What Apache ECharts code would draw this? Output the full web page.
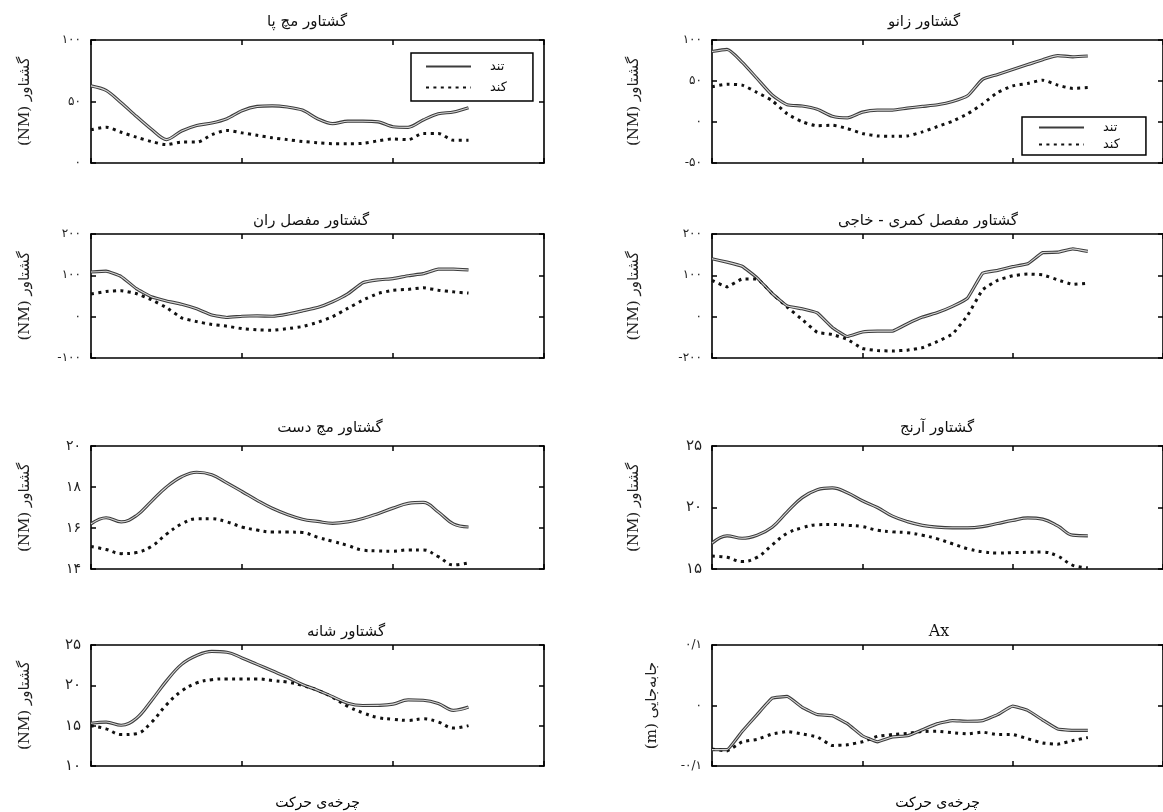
<!DOCTYPE html>
<html><head><meta charset="utf-8">
<script src="https://cdn.jsdelivr.net/npm/echarts@6/dist/echarts.min.js"></script>
<style>html,body{margin:0;padding:0;background:#fff}#c{width:1163px;height:812px}</style>
</head><body><div id="c"></div>
<script>
// ---- data (x = percent of movement cycle) ----
const cycle = [0,4,8,12,16,20,24,28,32,36,40,44,48,52,56,60,64,68,72,76,80,84,88,92,96,100];
const seriesNames = ['تند','کند'];

const ankleFast = [62.7,59,49,38,27.5,19,26,30.5,32.5,36,42.5,46,46.5,45.5,43,36,32,34,34,33.5,29.5,29,35,40,41.5,45];
const ankleSlow = [27,29,25,21,17.5,15,17,17,23,26.5,24.5,22.5,20.5,19,17.5,16.5,15.7,15.7,16,18,19.5,19,24,24,18.5,18.5];

const kneeFast = [86,88.5,73,53,33,21,19.5,15.5,7,5,12,14.5,14.5,17,19,21,25,32,52,58,64,70,76,81,79.5,80.5];
const kneeSlow = [43,46,45,36,26,10,0.3,-4.5,-4,-8,-14,-17,-17.5,-17,-12,-5.5,1,10,22,36,44,47,51,45,41,42];

const hipFast = [108,110,97,68,48,38,30,19,4,-2,1,2,1,6,14,22,36,55,82,89,92,99,104,115,115,113];
const hipSlow = [55,61,63,56,41,22,-3,-12,-19,-23,-29,-32,-33,-29,-24,-14,0,20,40,56,64,66,70,64,60,57];

const lumbarFast = [140,132,122,94,56,26,19,9,-26,-48,-37,-35,-35,-17,-1,10,25,45,105,112,121,128,155,156,164,158];
const lumbarSlow = [88,72,91,91,56,23,-7,-38,-43,-55,-77,-82,-83,-81,-75,-60,-42,3,65,88,99,103,101,89,78,81];

const wristFast = [16.2,16.5,16.3,16.6,17.3,18.0,18.5,18.72,18.6,18.2,17.78,17.35,16.96,16.66,16.43,16.32,16.23,16.3,16.46,16.7,16.97,17.2,17.25,16.78,16.2,16.05];
const wristSlow = [15.1,14.95,14.75,14.8,15.1,15.7,16.2,16.45,16.45,16.3,16.05,15.9,15.8,15.8,15.78,15.55,15.35,15.15,14.92,14.88,14.87,14.93,14.93,14.6,14.2,14.3];

const elbowFast = [17.1,17.7,17.5,17.75,18.4,19.65,20.8,21.45,21.6,21.2,20.55,20.0,19.3,18.85,18.55,18.4,18.35,18.35,18.45,18.7,18.95,19.15,19.05,18.5,17.75,17.7];
const elbowSlow = [16.05,15.95,15.6,15.95,16.95,17.9,18.35,18.6,18.62,18.55,18.45,18.15,18.02,17.95,17.75,17.45,17.05,16.65,16.4,16.3,16.33,16.36,16.38,16.05,15.3,15.1];

const shoulderFast = [15.3,15.45,15.05,15.9,18.1,20.55,22.6,23.7,24.2,24.1,23.4,22.6,21.8,21.0,20.1,19.4,18.6,17.78,17.5,17.52,17.67,18.2,18.15,17.75,16.9,17.3];
const shoulderSlow = [15.0,14.6,13.9,14.0,15.4,17.6,19.3,20.3,20.7,20.8,20.8,20.8,20.6,20.4,20.0,19.4,18.5,17.4,16.6,16.0,15.8,15.65,15.85,15.45,14.7,15.0];

const axFast = [-0.073,-0.073,-0.043,-0.015,0.012,0.015,-0.003,-0.015,-0.017,-0.03,-0.05,-0.06,-0.052,-0.05,-0.04,-0.03,-0.025,-0.026,-0.025,-0.015,-0.001,-0.008,-0.024,-0.039,-0.041,-0.041];
const axSlow = [-0.072,-0.075,-0.06,-0.056,-0.047,-0.043,-0.047,-0.052,-0.066,-0.065,-0.06,-0.051,-0.048,-0.046,-0.043,-0.0425,-0.045,-0.047,-0.044,-0.048,-0.048,-0.055,-0.062,-0.064,-0.058,-0.053];

// tick labels
const ankleTicks = [0,50,100],        ankleLabels = ['۰','۵۰','۱۰۰'];
const kneeTicks = [-50,0,50,100],     kneeLabels = ['-۵۰','۰','۵۰','۱۰۰'];
const hipTicks = [-100,0,100,200],    hipLabels = ['-۱۰۰','۰','۱۰۰','۲۰۰'];
const lumbarTicks = [-100,0,100,200], lumbarLabels = ['-۲۰۰','۰','۱۰۰','۲۰۰'];
const wristTicks = [14,16,18,20],     wristLabels = ['۱۴','۱۶','۱۸','۲۰'];
const elbowTicks = [15,20,25],        elbowLabels = ['۱۵','۲۰','۲۵'];
const shoulderTicks = [10,15,20,25],  shoulderLabels = ['۱۰','۱۵','۲۰','۲۵'];
const axTicks = [-0.1,0,0.1],         axLabels = ['-۰/۱','۰','۰/۱'];

const titles = ['گشتاور مچ پا','گشتاور زانو','گشتاور مفصل ران','گشتاور مفصل کمری - خاجی','گشتاور مچ دست','گشتاور آرنج','گشتاور شانه','Ax'];
const torqueName = '\u202Bگشتاور (NM)\u202C';
const dispName = '\u202Bجابه‌جایی (m)\u202C';
const xName = 'چرخه‌ی حرکت';

// ---- layout ----
const LX = 91, LW = 453, RX = 712, RW = 456;
const rows = [[40,123],[234,124],[446,123],[645,121]];
const panels = [
  {fast:ankleFast, slow:ankleSlow, ticks:ankleTicks, labels:ankleLabels, min:0, max:100, int:50, col:0, row:0, tx:307, fs:12, smooth:0.3, yName:torqueName, gap:58},
  {fast:kneeFast, slow:kneeSlow, ticks:kneeTicks, labels:kneeLabels, min:-50, max:100, int:50, col:1, row:0, tx:924, fs:12, smooth:0.2, yName:torqueName, gap:70},
  {fast:hipFast, slow:hipSlow, ticks:hipTicks, labels:hipLabels, min:-100, max:200, int:100, col:0, row:1, tx:311, fs:12, smooth:0.1, yName:torqueName, gap:58},
  {fast:lumbarFast, slow:lumbarSlow, ticks:lumbarTicks, labels:lumbarLabels, min:-100, max:200, int:100, col:1, row:1, tx:928, fs:12, smooth:0.1, yName:torqueName, gap:70},
  {fast:wristFast, slow:wristSlow, ticks:wristTicks, labels:wristLabels, min:14, max:20, int:2, col:0, row:2, tx:330, fs:14, smooth:0.4, yName:torqueName, gap:58},
  {fast:elbowFast, slow:elbowSlow, ticks:elbowTicks, labels:elbowLabels, min:15, max:25, int:5, col:1, row:2, tx:937, fs:15, smooth:0.4, yName:torqueName, gap:70},
  {fast:shoulderFast, slow:shoulderSlow, ticks:shoulderTicks, labels:shoulderLabels, min:10, max:25, int:5, col:0, row:3, tx:346, fs:15, smooth:0.4, yName:torqueName, gap:58, xName:xName},
  {fast:axFast, slow:axSlow, ticks:axTicks, labels:axLabels, min:-0.1, max:0.1, int:0.1, col:1, row:3, tx:939, fs:12, smooth:0.1, yName:dispName, gap:52, xName:xName}
];
const titleY = [22,221,428,632];

const pairs = (xs, ys) => xs.map((x, i) => [x, ys[i]]);
const FONT = 'DejaVu Sans';
const black = '#000';
const lineAx = {show:true, onZero:false, lineStyle:{color:black, width:1.6}};
const tickIn = {show:true, inside:true, length:5, lineStyle:{color:black, width:1.5}};

const grid = [], xAxis = [], yAxis = [], series = [], graphic = [];
panels.forEach((p, i) => {
  const [top, h] = rows[p.row];
  grid.push({left: p.col ? RX : LX, top: top, width: p.col ? RW : LW, height: h, show:false});
  xAxis.push({gridIndex:i, type:'value', min:0, max:120, interval:40, position:'bottom',
    axisLine:lineAx, axisTick:tickIn, axisLabel:{show:false}, splitLine:{show:false},
    name: p.xName || '', nameLocation:'middle', nameGap:30,
    nameTextStyle:{fontFamily:FONT, fontSize:14, color:black}});
  xAxis.push({gridIndex:i, type:'value', min:0, max:120, interval:40, position:'top',
    axisLine:lineAx, axisTick:tickIn, axisLabel:{show:false}, splitLine:{show:false}});
  yAxis.push({gridIndex:i, type:'value', min:p.min, max:p.max, interval:p.int, position:'left',
    axisLine:lineAx, axisTick:tickIn, splitLine:{show:false},
    axisLabel:{show:true, margin:10, fontFamily:FONT, fontSize:p.fs, color:'#222',
      formatter: v => { const k = p.ticks.findIndex(t => Math.abs(t - v) < 1e-9); return k >= 0 ? p.labels[k] : ''; }},
    name:p.yName, nameLocation:'middle', nameRotate:90, nameGap:p.gap,
    nameTextStyle:{fontFamily:'DejaVu Serif, DejaVu Sans', fontSize:15, color:'#222'}});
  yAxis.push({gridIndex:i, type:'value', min:p.min, max:p.max, interval:p.int, position:'right',
    axisLine:lineAx, axisTick:tickIn, axisLabel:{show:false}, splitLine:{show:false}});
  const common = {type:'line', xAxisIndex:2*i, yAxisIndex:2*i, symbol:'none', smooth:p.smooth, silent:true, animation:false};
  series.push(Object.assign({}, common, {name:seriesNames[0], data:pairs(cycle, p.fast), z:3,
    lineStyle:{color:'#3c3c3c', width:3.2}, itemStyle:{color:'#3c3c3c'}}));
  series.push(Object.assign({}, common, {name:'inner'+i, data:pairs(cycle, p.fast), z:4,
    lineStyle:{color:'#d6d6d6', width:1.1}, itemStyle:{color:'#d6d6d6'}}));
  series.push(Object.assign({}, common, {name:seriesNames[1], data:pairs(cycle, p.slow), z:3,
    lineStyle:{color:'#111', width:3, type:[3,4.4]}, itemStyle:{color:'#111'}}));
  graphic.push({type:'text', x:p.tx, y:titleY[p.row], silent:true,
    style:{text:titles[i], fill:'#111', font: (i === 7 ? '16px "DejaVu Serif"' : '15px "DejaVu Sans"'), align:'center', verticalAlign:'middle'}});
});

const legendBase = {data:seriesNames, orient:'vertical', itemWidth:45, itemHeight:12,
  borderColor:black, borderWidth:1.5, backgroundColor:'#fff', selectedMode:false,
  itemStyle:{color:'rgba(0,0,0,0)', borderColor:'rgba(0,0,0,0)', borderWidth:0, opacity:0},
  textStyle:{fontFamily:FONT, fontSize:13, color:'#111', padding:[0,0,0,14]}};
const legend = [
  Object.assign({}, legendBase, {left:411, top:53, padding:[7,26,7,14], itemGap:8}),
  Object.assign({}, legendBase, {left:1022, top:117, padding:[4,26,4,16], itemGap:4})
];

const chart = echarts.init(document.getElementById('c'), null, {renderer:'canvas'});
chart.setOption({animation:false, backgroundColor:'#fff', grid, xAxis, yAxis, series, legend, graphic});
</script></body></html>
